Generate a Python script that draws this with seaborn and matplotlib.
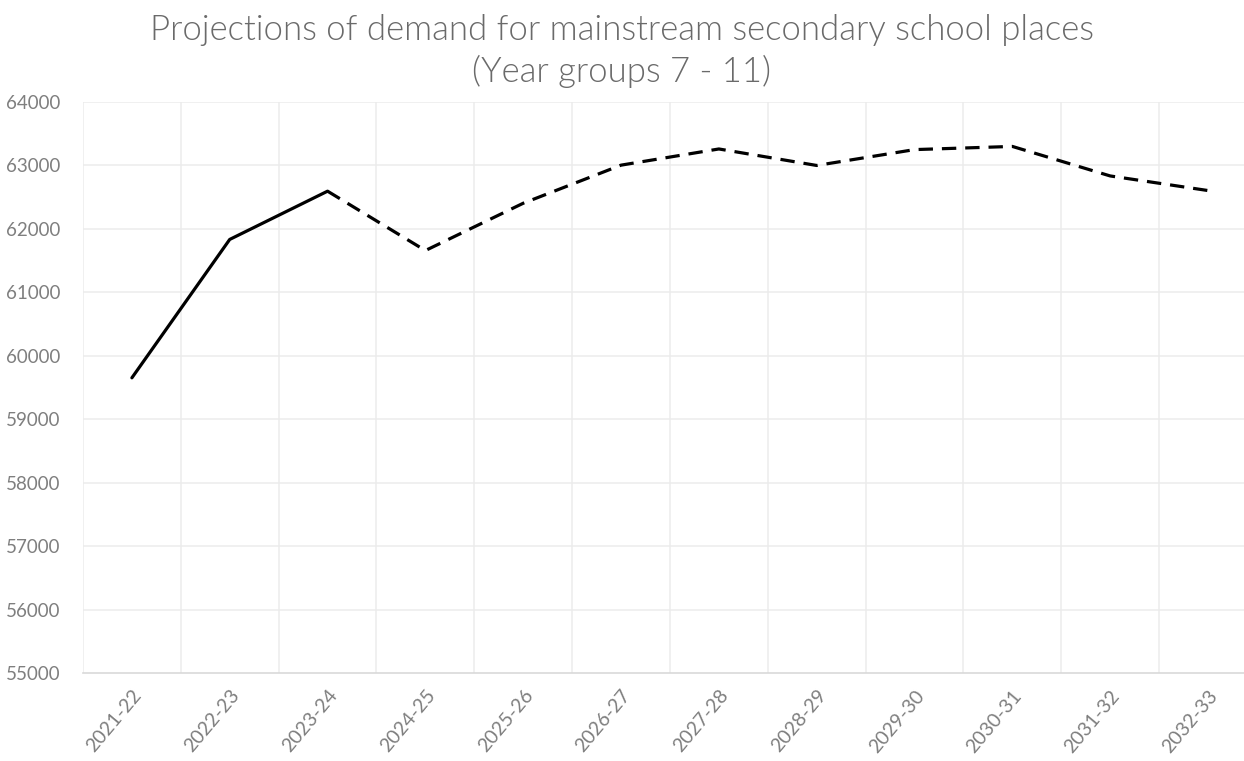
import numpy as np
import pandas as pd
import matplotlib
matplotlib.use("Agg")
import matplotlib.pyplot as plt
import seaborn as sns

# Data
years = ["2021-22", "2022-23", "2023-24", "2024-25", "2025-26", "2026-27",
         "2027-28", "2028-29", "2029-30", "2030-31", "2031-32", "2032-33"]
demand = [59650, 61830, 62590, 61655, 62400, 63000,
          63255, 62995, 63245, 63295, 62830, 62600]
n_actual = 3  # first three years are actual numbers, the rest projected

y_ticks = list(range(55000, 64001, 1000))

df = pd.DataFrame({"pos": np.arange(len(years)), "year": years, "demand": demand})
actual = df.iloc[:n_actual]
projected = df.iloc[n_actual - 1:]

sns.set_style("white")
plt.rcParams["font.family"] = ["Lato", "DejaVu Sans"]

fig = plt.figure(figsize=(12.44, 7.61), dpi=100)
ax = fig.add_axes([0.0667, 0.1156, 0.9437, 0.7508])

sns.lineplot(data=actual, x="pos", y="demand", color="black", linewidth=2.3, ax=ax)
sns.lineplot(data=projected, x="pos", y="demand", color="black", linewidth=2.3,
             linestyle=(0, (4.5, 2.8)), ax=ax)

# Grid: horizontal at each tick, vertical between categories
ax.set_xlim(-0.5, len(years) - 0.5)
ax.set_ylim(55000, 64000)
ax.set_yticks(y_ticks)
for yv in y_ticks[1:]:
    ax.axhline(yv, color="#ececec", linewidth=1.1, zorder=0)
for xv in np.arange(-0.5, len(years), 1.0):
    ax.axvline(xv, color="#ececec", linewidth=1.1, zorder=0)

for side in ["top", "right", "left"]:
    ax.spines[side].set_visible(False)
ax.spines["bottom"].set_color("#d9d9d9")
ax.spines["bottom"].set_linewidth(1.2)

ax.set_xticks(df["pos"])
ax.set_xticklabels(years, rotation=50, ha="right", rotation_mode="anchor")
ax.tick_params(axis="x", length=0, pad=10, labelsize=14, labelcolor="#7f7f7f")
ax.tick_params(axis="y", length=0, pad=16, labelsize=13.5, labelcolor="#7f7f7f")
ax.set_xlabel("")
ax.set_ylabel("")

fig.suptitle("Projections of demand for mainstream secondary school places\n(Year groups 7 - 11)",
             y=0.982, fontsize=25, color="#6a6a6a", fontweight=300, linespacing=1.35)

fig.savefig("out.png", dpi=100)
